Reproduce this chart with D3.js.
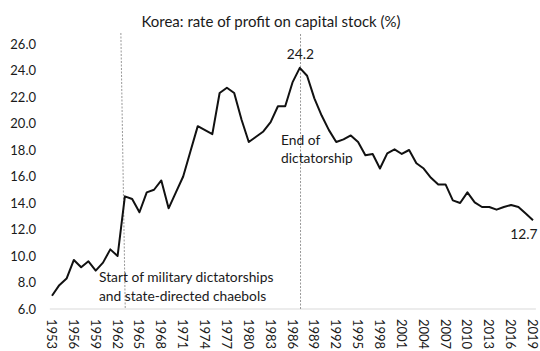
<!DOCTYPE html>
<html>
<head>
<meta charset="utf-8">
<script src="https://cdn.jsdelivr.net/npm/d3@7"></script>
<style>
  body { margin: 0; background: #fff; }
  text { font-family: Lato, "Open Sans", sans-serif; fill: #1a1a1a; }
</style>
</head>
<body>
<div id="chart"></div>
<script>
// Korea rate of profit on capital stock, 1953-2019 (%)
var years = d3.range(1953, 2020);
var profitRate = [
    7.0, 7.8, 8.3, 9.7, 9.15, 9.6, 8.9, 9.5, 10.5, 10.0,
    14.5, 14.3, 13.3, 14.8, 15.0, 15.7, 13.6, 14.8, 16.0, 17.9,
    19.8, 19.5, 19.2, 22.3, 22.7, 22.3, 20.3, 18.6, 19.0, 19.4,
    20.1, 21.3, 21.3, 23.1, 24.2, 23.6, 21.9, 20.6, 19.5, 18.6,
    18.8, 19.1, 18.6, 17.6, 17.7, 16.6, 17.75, 18.05, 17.7, 18.0,
    17.0, 16.6, 15.9, 15.4, 15.4, 14.2, 14.0, 14.8, 14.05, 13.7,
    13.7, 13.5, 13.7, 13.85, 13.7, 13.2, 12.7
];
var yTicks = [6, 8, 10, 12, 14, 16, 18, 20, 22, 24, 26];
var xTicks = d3.range(1953, 2020, 3);

var width = 540, height = 351;

var svg = d3.select("#chart")
    .append("svg")
    .attr("width", width)
    .attr("height", height);

var xScale = d3.scaleLinear()
    .domain([1953, 2019])
    .range([52, 533]);

var yScale = d3.scaleLinear()
    .domain([6, 26])
    .range([309, 44]);

// title
svg.append("text")
    .attr("x", 271)
    .attr("y", 27)
    .attr("text-anchor", "middle")
    .style("font-size", "15px")
    .text("Korea: rate of profit on capital stock (%)");

// y axis labels
var yAxis = d3.axisLeft(yScale)
    .tickValues(yTicks)
    .tickSize(0)
    .tickPadding(0)
    .tickFormat(d3.format(".1f"));
var gy = svg.append("g")
    .attr("transform", "translate(36,0)")
    .call(yAxis);
gy.select(".domain").remove();
gy.selectAll("text").style("font-size", "13px").style("font-family", null);

// x axis baseline
svg.append("line")
    .attr("x1", xScale(1952.7))
    .attr("x2", xScale(2019.4))
    .attr("y1", yScale(6))
    .attr("y2", yScale(6))
    .attr("stroke", "#d9d9d9")
    .attr("stroke-width", 1);

// x axis labels, rotated
var xAxis = d3.axisBottom(xScale)
    .tickValues(xTicks)
    .tickSize(0)
    .tickFormat(d3.format("d"));
var gx = svg.append("g")
    .attr("transform", "translate(1," + yScale(6) + ")")
    .call(xAxis);
gx.select(".domain").remove();
gx.selectAll("text")
    .attr("transform", "rotate(90)")
    .attr("x", 10)
    .attr("y", 0)
    .attr("dy", "0.5em")
    .attr("text-anchor", "start")
    .style("font-size", "13px")
    .style("font-family", null);

// dashed marker lines
svg.append("line")
    .attr("x1", xScale(1962.45)).attr("y1", 33)
    .attr("x2", xScale(1963.05)).attr("y2", yScale(6))
    .attr("stroke", "#999")
    .attr("stroke-width", 1)
    .attr("stroke-dasharray", "2,1.5");

svg.append("line")
    .attr("x1", xScale(1987.1)).attr("y1", 34)
    .attr("x2", xScale(1987.1)).attr("y2", yScale(6))
    .attr("stroke", "#999")
    .attr("stroke-width", 1)
    .attr("stroke-dasharray", "2,1.5");

// the series
var line = d3.line()
    .x(function(d, i) { return xScale(years[i]); })
    .y(function(d) { return yScale(d); });

svg.append("path")
    .datum(profitRate)
    .attr("d", line)
    .attr("fill", "none")
    .attr("stroke", "#111")
    .attr("stroke-width", 2)
    .attr("stroke-linejoin", "round");

// annotations
var notes = svg.append("g").style("font-size", "13.8px");
notes.append("text").attr("x", 99).attr("y", 282).text("Start of military dictatorships");
notes.append("text").attr("x", 99).attr("y", 301).text("and state-directed chaebols");
notes.append("text").attr("x", 281).attr("y", 145).text("End of");
notes.append("text").attr("x", 281).attr("y", 163).text("dictatorship");
notes.append("text").attr("x", 300.5).attr("y", 59).attr("text-anchor", "middle").text("24.2");
notes.append("text").attr("x", 524).attr("y", 239).attr("text-anchor", "middle").text("12.7");
</script>
</body>
</html>
